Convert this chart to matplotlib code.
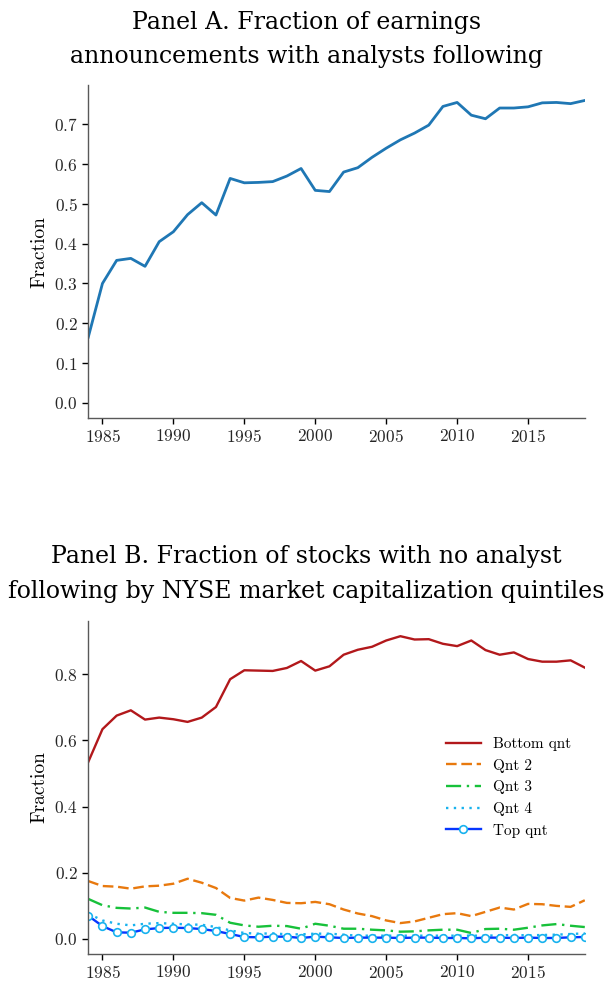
import numpy as np
import matplotlib
matplotlib.use("Agg")
import matplotlib.pyplot as plt

plt.rcParams['font.family'] = 'cmr10'
plt.rcParams['axes.formatter.use_mathtext'] = True
plt.rcParams['mathtext.fontset'] = 'cm'

years = list(range(1984, 2020))

# Panel A: fraction of earnings announcements with analysts following
frac_followed = [0.165, 0.300, 0.358, 0.363, 0.343, 0.405, 0.430, 0.473, 0.503, 0.472,
                 0.564, 0.553, 0.554, 0.556, 0.570, 0.589, 0.534, 0.531, 0.580, 0.591,
                 0.617, 0.640, 0.661, 0.678, 0.698, 0.745, 0.755, 0.723, 0.714, 0.741,
                 0.741, 0.744, 0.754, 0.755, 0.752, 0.760]

# Panel B: fraction of stocks with no analyst following, by NYSE size quintile
bottom_qnt = [0.535, 0.634, 0.675, 0.691, 0.663, 0.669, 0.664, 0.656, 0.669, 0.701,
              0.785, 0.812, 0.811, 0.810, 0.819, 0.840, 0.811, 0.824, 0.859, 0.874,
              0.883, 0.902, 0.915, 0.905, 0.906, 0.892, 0.885, 0.902, 0.873, 0.859,
              0.866, 0.846, 0.838, 0.838, 0.842, 0.820]
qnt2 = [0.175, 0.160, 0.158, 0.152, 0.159, 0.161, 0.167, 0.182, 0.170, 0.154,
        0.124, 0.116, 0.125, 0.118, 0.109, 0.108, 0.112, 0.105, 0.089, 0.077,
        0.069, 0.056, 0.048, 0.053, 0.064, 0.075, 0.078, 0.069, 0.082, 0.095,
        0.089, 0.106, 0.105, 0.100, 0.097, 0.117]
qnt3 = [0.121, 0.102, 0.094, 0.092, 0.095, 0.082, 0.079, 0.079, 0.078, 0.073,
        0.049, 0.041, 0.037, 0.040, 0.039, 0.031, 0.046, 0.040, 0.031, 0.031,
        0.028, 0.026, 0.022, 0.023, 0.026, 0.028, 0.028, 0.018, 0.030, 0.031,
        0.028, 0.034, 0.041, 0.045, 0.040, 0.036]
qnt4 = [0.077, 0.056, 0.046, 0.041, 0.046, 0.048, 0.046, 0.044, 0.043, 0.036,
        0.026, 0.018, 0.016, 0.017, 0.014, 0.014, 0.016, 0.016, 0.013, 0.010,
        0.010, 0.010, 0.010, 0.010, 0.010, 0.010, 0.010, 0.010, 0.010, 0.011,
        0.012, 0.011, 0.012, 0.013, 0.015, 0.017]
top_qnt = [0.070, 0.039, 0.020, 0.019, 0.029, 0.033, 0.034, 0.033, 0.030, 0.024,
           0.015, 0.006, 0.005, 0.007, 0.007, 0.003, 0.007, 0.005, 0.003, 0.004,
           0.004, 0.004, 0.003, 0.004, 0.004, 0.003, 0.003, 0.002, 0.004, 0.004,
           0.003, 0.004, 0.003, 0.003, 0.005, 0.006]

fig = plt.figure(figsize=(6.13, 9.81), dpi=100)
axA = fig.add_axes([0.144, 0.574, 0.810, 0.339])
axB = fig.add_axes([0.144, 0.028, 0.810, 0.339])

title_kw = dict(ha='center', va='baseline', fontsize=17, family='DejaVu Serif')
fig.text(0.5, 1 - 29 / 981, 'Panel A. Fraction of earnings', **title_kw)
fig.text(0.5, 1 - 63 / 981, 'announcements with analysts following', **title_kw)
fig.text(0.5, 1 - 563 / 981, 'Panel B. Fraction of stocks with no analyst', **title_kw)
fig.text(0.5, 1 - 598 / 981, 'following by NYSE market capitalization quintiles', **title_kw)

axA.plot(years, frac_followed, color='#1f77b4', lw=2.0)
axA.set_xlim(1984, 2019)
axA.set_ylim(-0.038, 0.798)
axA.set_yticks(np.arange(0, 0.71, 0.1))

axB.plot(years, bottom_qnt, color='#b2181b', lw=1.7, label='Bottom qnt')
axB.plot(years, qnt2, color='#e8790e', lw=1.7, ls=(0, (4.5, 2.0)), label='Qnt 2')
axB.plot(years, qnt3, color='#17c13a', lw=1.7, ls=(0, (6.4, 2.4, 1, 2.4)), label='Qnt 3')
axB.plot(years, qnt4, color='#18b2ee', lw=1.7, ls=(0, (1, 2.3)), label='Qnt 4')
axB.plot(years, top_qnt, color='#0636ff', lw=1.7, marker='o', ms=5.5,
         mfc='white', mec='#18b2ee', mew=1.2, label='Top qnt')
axB.set_xlim(1984, 2019)
axB.set_ylim(-0.044, 0.961)
axB.set_yticks(np.arange(0, 0.81, 0.2))
axB.legend(loc='center right', frameon=False, fontsize=11, handlelength=2.3)

for ax in (axA, axB):
    ax.set_xticks(range(1985, 2016, 5))
    ax.set_ylabel('Fraction', fontsize=14)
    ax.spines['top'].set_visible(False)
    ax.spines['right'].set_visible(False)
    for s in ('left', 'bottom'):
        ax.spines[s].set_color('0.35')
        ax.spines[s].set_linewidth(1.0)
    ax.tick_params(labelsize=12.5, length=4, width=1, color='black', labelcolor='0.15')

fig.savefig('out.png', dpi=100)
